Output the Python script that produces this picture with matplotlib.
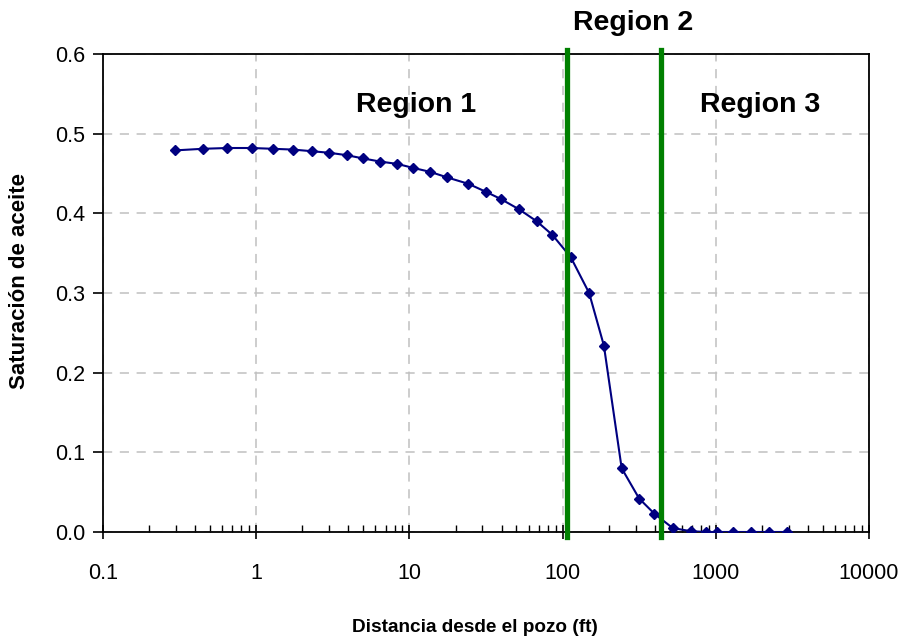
import matplotlib
matplotlib.use("Agg")
import matplotlib.pyplot as plt
from matplotlib.ticker import LogLocator, FixedLocator, NullFormatter, FuncFormatter

plt.rcParams['font.family'] = ['Liberation Sans', 'DejaVu Sans']

# Distance from the well (ft) and oil saturation
distance_ft = [0.295, 0.447, 0.648, 0.935, 1.29, 1.75, 2.30, 3.00, 3.90, 4.96,
               6.43, 8.35, 10.6, 13.7, 17.7, 24.3, 31.6, 39.5, 52.0, 67.8,
               85.7, 113, 149, 186, 243, 316, 397, 523, 686, 863,
               1023, 1290, 1690, 2234, 2928]
oil_saturation = [0.479, 0.481, 0.482, 0.482, 0.481, 0.480, 0.478, 0.476, 0.473, 0.469,
                  0.465, 0.462, 0.457, 0.452, 0.445, 0.437, 0.427, 0.418, 0.405, 0.390,
                  0.373, 0.345, 0.300, 0.234, 0.080, 0.042, 0.023, 0.005, 0.001, 0.0,
                  0.0, 0.0, 0.0, 0.0, 0.0]

# Region boundaries (ft)
region_bounds = [107, 439]
region_names = ["Region 1", "Region 2", "Region 3"]

x_ticks = [0.1, 1, 10, 100, 1000, 10000]
x_tick_labels = ["0.1", "1", "10", "100", "1000", "10000"]
y_ticks = [0.0, 0.1, 0.2, 0.3, 0.4, 0.5, 0.6]

W, H = 905, 638
fig = plt.figure(figsize=(W / 100, H / 100), dpi=100)
ax = fig.add_axes([103 / W, 1 - 532 / H, 766 / W, 478 / H])

ax.set_xscale('log')
ax.set_xlim(0.1, 10000)
ax.set_ylim(0, 0.6)

ax.grid(True, which='major', color='#c0c0c0', linestyle=(0, (6, 5)), linewidth=1.1)
ax.set_axisbelow(True)

ax.plot(distance_ft, oil_saturation, color='#000080', linewidth=1.5,
        marker='D', markersize=5.5, markerfacecolor='#000080',
        markeredgecolor='#000080', zorder=3)

for b in region_bounds:
    ax.axvline(b, color='#008000', linewidth=3.8, ymin=-0.01, ymax=1.008,
               clip_on=False, zorder=4)

ax.xaxis.set_major_locator(FixedLocator(x_ticks))
ax.set_xticklabels(x_tick_labels)
ax.xaxis.set_minor_locator(LogLocator(base=10, subs=range(2, 10), numticks=20))
ax.xaxis.set_minor_formatter(NullFormatter())
ax.set_yticks(y_ticks)
ax.yaxis.set_major_formatter(FuncFormatter(lambda v, p: f"{v:.1f}"))

ax.tick_params(axis='x', which='major', direction='inout', length=10, width=1.2,
               labelsize=15.5, pad=17, colors='black')
ax.tick_params(axis='x', which='minor', direction='in', length=5, width=1.0)
ax.tick_params(axis='y', which='major', direction='out', length=7, width=1.2,
               labelsize=15.5, pad=6)
ax.tick_params(axis='x', which='both', top=False)
ax.tick_params(axis='y', which='both', right=False)

for s in ax.spines.values():
    s.set_linewidth(1.3)
    s.set_color('black')


def px_text(x, y, s, **kw):
    fig.text(x / W, 1 - y / H, s, ha='center', va='center', **kw)


px_text(416, 105, region_names[0], fontsize=20.5, fontweight='bold')
px_text(633, 23, region_names[1], fontsize=20.5, fontweight='bold')
px_text(760, 105, region_names[2], fontsize=20.5, fontweight='bold')

px_text(475, 627, "Distancia desde el pozo (ft)", fontsize=13.7, fontweight='bold')
px_text(20, 281, "Saturación de aceite", fontsize=16, fontweight='bold', rotation=90)

fig.savefig("out.png", dpi=100)
